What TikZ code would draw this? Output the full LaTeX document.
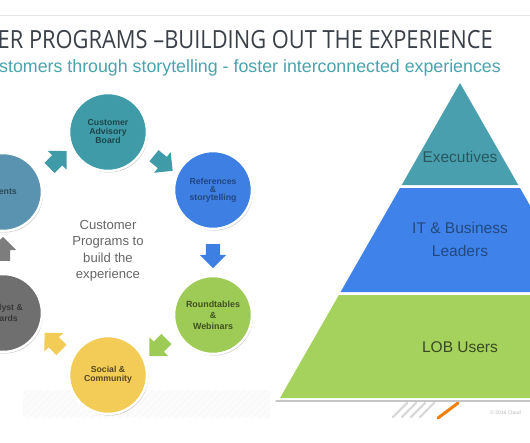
\documentclass[tikz,border=0pt]{standalone}
\usepackage{graphicx}
\usepackage{fontspec}
\setmainfont{Liberation Sans}
\newfontfamily\titlefont{Open Sans}
\usetikzlibrary{shapes.arrows,shadows}
\definecolor{evblue}{HTML}{5A93B0}
\definecolor{cabteal}{HTML}{3F9BA8}
\definecolor{refblue}{HTML}{3D7FE3}
\definecolor{rtgreen}{HTML}{9DCB55}
\definecolor{socyellow}{HTML}{F3CC58}
\definecolor{angray}{HTML}{6F6F6F}
\definecolor{exteal}{HTML}{4A9FAE}
\definecolor{itblue}{HTML}{3F83EA}
\definecolor{lobgreen}{HTML}{A5D25C}
\definecolor{titlegray}{HTML}{3A4048}
\definecolor{subteal}{HTML}{4AA3AD}
\begin{document}
\begin{tikzpicture}[x=1pt,y=-1pt,line join=round,line cap=round]
	\tikzset{bubble/.style={circle,minimum size=78pt,inner sep=0pt,draw=white,line width=2.5pt,
			drop shadow={shadow xshift=1pt,shadow yshift=-1.5pt,opacity=0.25,fill=black}},
		bubtext/.style={align=center,inner sep=0pt,font=\fontsize{8.7}{9}\selectfont\bfseries},
		blk/.style={single arrow,inner sep=7pt,minimum height=24pt,
			single arrow head extend=6pt,draw=none,sloped,allow upside down},
		tiertext/.style={align=center,font=\fontsize{15.5}{23}\selectfont}}
	\clip (0,0) rectangle (530,442);
	\fill[white] (0,0) rectangle (530,442);
	\draw[gray!20,line width=1pt] (0,15)--(530,15);
	\node[anchor=base east,inner sep=0pt,text=titlegray,font=\titlefont\fontsize{25}{30}\selectfont] (ttl) at (493,48) {\scalebox{0.874}[1]{ER PROGRAMS –BUILDING OUT THE EXPERIENCE}};
	\node[anchor=base east,inner sep=0pt,text=subteal,font=\fontsize{17.8}{20}\selectfont] (sub) at (501,72) {stomers through storytelling - foster interconnected experiences};
	\begin{scope}
		\clip (23,390) rectangle (270,418);
		\fill[gray!2] (23,390) rectangle (270,418);
		\foreach \x in {0,7,...,280}
		\draw[gray!5,line width=1.5pt] (\x,418)--(\x+28,390);
	\end{scope}
	\node[bubble,fill=evblue] (ev) at (3,192) {};
	\node[bubble,fill=cabteal] (cab) at (108,132) {};
	\node[bubble,fill=refblue] (ref) at (213,190) {};
	\node[bubble,fill=rtgreen] (rt) at (213,315) {};
	\node[bubble,fill=socyellow] (soc) at (108,375) {};
	\node[bubble,fill=angray] (an) at (3,313) {};
	\node[bubtext,text=evblue!50!black,anchor=east] (evlbl) at (17,192) {ents};
	\node[bubtext,text=cabteal!45!black] (cablbl) at (cab) {Customer\\Advisory\\Board};
	\node[bubtext,text=refblue!55!black,font=\fontsize{8.7}{8}\selectfont\bfseries] (reflbl) at (ref) {References\\\&\\storytelling};
	\node[bubtext,text=rtgreen!40!black,font=\fontsize{8.9}{11}\selectfont\bfseries] (rtlbl) at (rt) {Roundtables\\\&\\Webinars};
	\node[bubtext,text=socyellow!35!black] (soclbl) at (soc) {Social \&\\Community};
	\node[bubtext,text=angray!50!black,anchor=east] (anlbl1) at (23,308) {lyst \&};
	\node[bubtext,text=angray!50!black,anchor=east] (anlbl2) at (18,318) {ards};
	\path (ev)--(cab) node[blk,midway,rotate=15,fill=cabteal] (a1) {};
	\path (cab)--(ref) node[blk,midway,rotate=-10,fill=cabteal] (a2) {};
	\path (ref)--(rt) node[blk,midway,fill=refblue] (a3) {};
	\path (rt)--(soc) node[blk,midway,rotate=15,fill=rtgreen] (a4) {};
	\path (soc)--(an) node[blk,midway,rotate=-15,fill=socyellow] (a5) {};
	\path (an)--(ev) node[blk,midway,fill=angray!90] (a6) {};
	\node[align=center,text=gray!80!black,font=\fontsize{13.1}{16.5}\selectfont] (ctr) at (108,251) {Customer\\Programs to\\build the\\experience};
	\fill[exteal] (460,83)--(518.3,185)--(401.7,185)--cycle;
	\fill[itblue] (400,188)--(520,188)--(579.4,292)--(340.6,292)--cycle;
	\fill[lobgreen] (338.9,295)--(581.1,295)--(640,398)--(280,398)--cycle;
	\draw[gray!45,line width=1.2pt] (276,401)--(530,401);
	\node[tiertext,text=exteal!55!black] (exec) at (460,157) {Executives};
	\node[tiertext,text=itblue!55!black] (itb) at (460,239.5) {IT \& Business\\Leaders};
	\node[tiertext,text=lobgreen!35!black] (lob) at (460,347) {LOB Users};
	\foreach \x in {393,402,...,426}
	\draw[gray!30,line width=2.2pt] (\x,417)--(\x+14,403);
	\draw[orange!80!brown,line width=3pt] (438,418)--(458,403);
	\node[anchor=west,inner sep=0pt,text=gray!55,font=\fontsize{5}{6}\selectfont] (copy) at (490,413) {© 2016 Cloud};
\end{tikzpicture}
\end{document}
